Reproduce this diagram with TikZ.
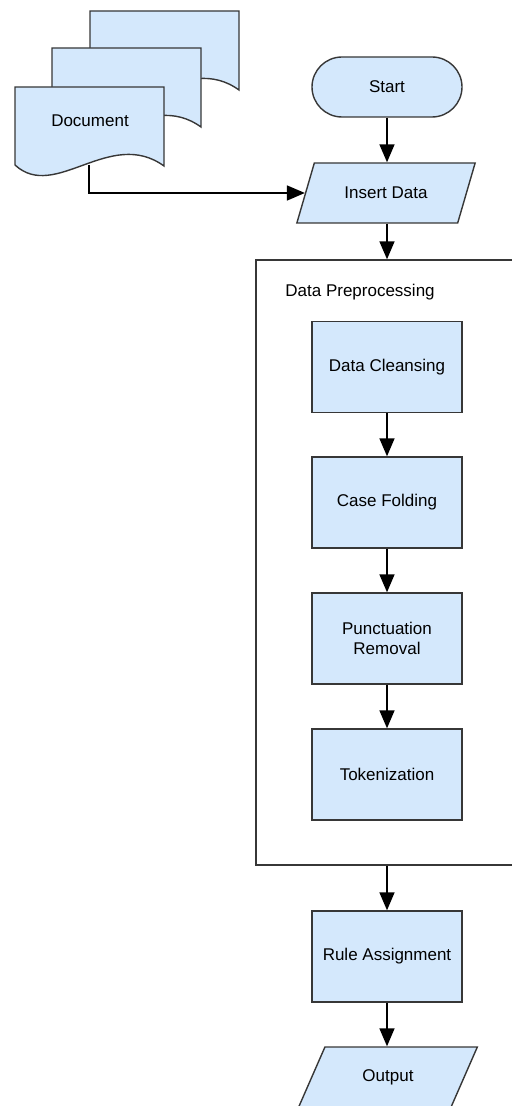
\documentclass[tikz,border=0pt]{standalone}
\usepackage{fontspec}
\setmainfont{Liberation Sans}
\usetikzlibrary{shapes.geometric}
\usetikzlibrary{arrows.meta}
\usepackage{xcolor}
\definecolor{boxblue}{RGB}{212,232,252}
\definecolor{linegray}{RGB}{55,55,55}

\begin{document}
\begin{tikzpicture}[x=0.5pt, y=-0.5pt, font=\fontsize{8.5}{10}\selectfont]
        % ================= 样式定义 =================
        \tikzset{
            % 处理步骤:矩形
            procbox/.style={draw=linegray, line width=0.7pt, fill=boxblue, align=center, minimum width=75pt, minimum height=45.5pt, inner sep=2pt},
            % 开始:圆角
            termnode/.style={draw=linegray, line width=0.7pt, fill=boxblue, rounded corners=15pt, minimum width=75pt, minimum height=30pt},
            % 输入输出:平行四边形
            ionode/.style={trapezium, trapezium left angle=65, trapezium right angle=115, trapezium stretches=true, draw=linegray, line width=0.7pt, fill=boxblue, minimum width=89.5pt, minimum height=30pt},
            % 外框
            groupframe/.style={draw=linegray, line width=0.7pt, fill=white, minimum width=137pt, minimum height=302.5pt},
            % 连线
            flow/.style={line width=0.8pt, black, -{Triangle[length=9pt, width=7.5pt]}},
            % 文档页
            docpage/.pic={
                \draw[draw=linegray, line width=0.7pt, fill=boxblue] (0,0) -- (149,0) -- (149,79) .. controls (95,40) and (40,115) .. (0,78) -- cycle;
            }
        }
        \useasboundingbox (0,0) rectangle (511,1106);

        % ================= 1. 文档堆叠 =================
        \pic at (90,11) {docpage};
        \pic at (52,48) {docpage};
        \pic at (15,87) {docpage};
        \node (doc) at (90,121) {Document};
        \coordinate (docout) at (89,165);

        % ================= 2. 开始与输入 =================
        \node[termnode] (start) at (387,87) {Start};
        \node[ionode] (insert) at (386,193) {Insert Data};

        % ================= 3. 预处理外框 =================
        \node[groupframe] (prep) at (393,562.5) {};
        \node[anchor=west, inner sep=0pt] (preplabel) at (285,292) {Data Preprocessing};

        \node[procbox] (cleansing) at (387,367) {Data Cleansing};
        \node[procbox] (folding) at (387,502.5) {Case Folding};
        \node[procbox] (punct) at (387,638.5) {Punctuation\\Removal};
        \node[procbox] (token) at (387,774.5) {Tokenization};

        % ================= 4. 规则与输出 =================
        \node[procbox] (rule) at (387,956.5) {Rule Assignment};
        \node[ionode] (output) at (388,1077) {Output};

        % ================= 5. 连线 =================
        \draw[flow] (docout) |- (insert.west);
        \draw[flow] (start) -- (insert.north -| start);
        \draw[flow] (insert.south -| start) -- (prep.north -| start);
        \draw[flow] (cleansing) -- (folding);
        \draw[flow] (folding) -- (punct);
        \draw[flow] (punct) -- (token);
        \draw[flow] (prep.south -| rule) -- (rule);
        \draw[flow] (rule) -- (output.north -| rule);

    \end{tikzpicture}
\end{document}
